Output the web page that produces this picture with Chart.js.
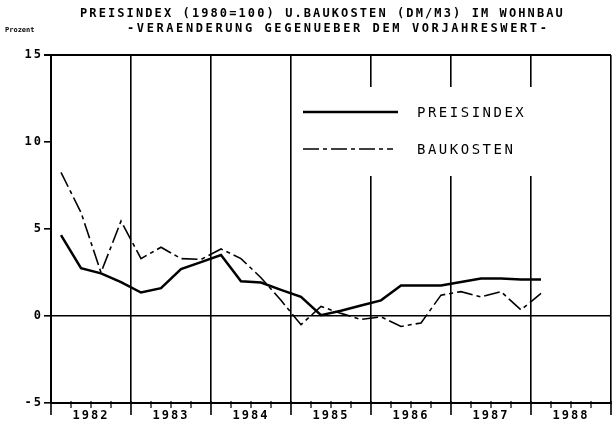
<!DOCTYPE html>
<html>
<head>
<meta charset="utf-8">
<script src="https://cdn.jsdelivr.net/npm/chart.js@4/dist/chart.umd.min.js"></script>
<style>
  html, body { margin: 0; padding: 0; background: #fff; }
  #wrap { width: 612px; height: 423px; }
</style>
</head>
<body>
<div id="wrap"><canvas id="preisChart" width="612" height="423"></canvas></div>
<script>
// quarterly values, 1982 Q1 .. 1988 Q1 (change vs. previous year, percent)
const firstYear = 1982;
const years = ['1982', '1983', '1984', '1985', '1986', '1987', '1988'];
const quarters = [
  '1982/1', '1982/2', '1982/3', '1982/4',
  '1983/1', '1983/2', '1983/3', '1983/4',
  '1984/1', '1984/2', '1984/3', '1984/4',
  '1985/1', '1985/2', '1985/3', '1985/4',
  '1986/1', '1986/2', '1986/3', '1986/4',
  '1987/1', '1987/2', '1987/3', '1987/4',
  '1988/1'
];
const preisindex = [
  4.65, 2.75, 2.45, 1.95,
  1.35, 1.6, 2.7, 3.1,
  3.5, 2.0, 1.92, 1.5,
  1.1, 0.05, 0.3, 0.6,
  0.9, 1.75, 1.75, 1.75,
  1.95, 2.15, 2.15, 2.1,
  2.1
];
const baukosten = [
  8.25, 5.95, 2.5, 5.45,
  3.3, 3.95, 3.3, 3.25,
  3.85, 3.3, 2.2, 0.9,
  -0.5, 0.55, 0.15, -0.2,
  -0.05, -0.6, -0.4, 1.2,
  1.4, 1.1, 1.4, 0.35,
  1.3
];
const yTicks = [15, 10, 5, 0, -5];
const seriesNames = ['PREISINDEX', 'BAUKOSTEN'];

const mono = '"DejaVu Sans Mono", "Liberation Mono", monospace';
const qPos = (i) => firstYear + (i + 0.5) / 4;

const paper = {
  id: 'paper',
  beforeDraw(chart) {
    chart.ctx.letterSpacing = '2px';
  },
  afterDraw(chart) {
    const ctx = chart.ctx;
    const xs = chart.scales.x;
    const ys = chart.scales.y;
    const bottom = ys.getPixelForValue(-5);
    ctx.save();
    ctx.strokeStyle = '#000';
    ctx.fillStyle = '#000';
    // quarter ticks under the axis, year lines run a bit further down
    for (let v = firstYear * 4; v <= (firstYear + years.length) * 4; v++) {
      const x = xs.getPixelForValue(v / 4);
      const len = v % 4 === 0 ? 12 : 5;
      ctx.lineWidth = v % 4 === 0 ? 1.6 : 1.2;
      ctx.beginPath();
      ctx.moveTo(x, bottom - 2);
      ctx.lineTo(x, bottom + len);
      ctx.stroke();
    }
    // legend box inside the plot
    ctx.fillStyle = '#fff';
    ctx.fillRect(297, 87, 306, 89);
    ctx.fillStyle = '#000';
    ctx.lineWidth = 2.5;
    ctx.beginPath();
    ctx.moveTo(303, 112);
    ctx.lineTo(398, 112);
    ctx.stroke();
    ctx.lineWidth = 1.6;
    ctx.setLineDash([16, 4, 4, 4]);
    ctx.beginPath();
    ctx.moveTo(303, 149);
    ctx.lineTo(393, 149);
    ctx.stroke();
    ctx.setLineDash([]);
    ctx.font = '14px ' + mono;
    ctx.letterSpacing = '2.5px';
    ctx.textBaseline = 'middle';
    ctx.textAlign = 'left';
    ctx.fillText(seriesNames[0], 417, 113);
    ctx.fillText(seriesNames[1], 417, 150);
    // titles
    ctx.font = 'bold 12px ' + mono;
    ctx.letterSpacing = '2.1px';
    ctx.fillText('PREISINDEX (1980=100) U.BAUKOSTEN (DM/M3) IM WOHNBAU', 80, 14);
    ctx.letterSpacing = '2.6px';
    ctx.fillText('-VERAENDERUNG GEGENUEBER DEM VORJAHRESWERT-', 127, 29);
    ctx.font = 'bold 7px ' + mono;
    ctx.letterSpacing = '0px';
    ctx.fillText('Prozent', 5, 30);
    ctx.restore();
  }
};

new Chart(document.getElementById('preisChart').getContext('2d'), {
  type: 'line',
  data: {
    datasets: [
      {
        label: seriesNames[0],
        data: preisindex.map((v, i) => ({ x: qPos(i), y: v })),
        borderColor: '#000',
        borderWidth: 2.5,
        pointRadius: 0,
        tension: 0
      },
      {
        label: seriesNames[1],
        data: baukosten.map((v, i) => ({ x: qPos(i), y: v })),
        borderColor: '#000',
        borderWidth: 1.6,
        borderDash: [16, 4, 4, 4],
        pointRadius: 0,
        tension: 0
      }
    ]
  },
  options: {
    responsive: false,
    animation: false,
    layout: { padding: { top: 55, right: 1, left: 0, bottom: 0 } },
    plugins: {
      legend: { display: false },
      title: { display: false },
      tooltip: { enabled: false }
    },
    scales: {
      x: {
        type: 'linear',
        min: firstYear,
        max: firstYear + years.length,
        afterFit: (s) => { s.height = 20; s.paddingLeft = 0; s.paddingRight = 0; },
        border: { display: true, color: '#000', width: 2 },
        grid: {
          drawTicks: false,
          lineWidth: 1.6,
          color: (c) => Number.isInteger(c.tick.value) ? '#000' : 'rgba(0,0,0,0)'
        },
        ticks: {
          stepSize: 0.25,
          autoSkip: false,
          maxRotation: 0,
          padding: 6,
          color: '#000',
          font: { family: mono, size: 12, weight: 'bold' },
          callback: (v) => {
            const i = Math.round((v - 0.5 - firstYear));
            return Math.abs(v - firstYear - i - 0.5) < 1e-6 ? years[i] : '';
          }
        }
      },
      y: {
        min: -5,
        max: 15,
        afterFit: (s) => { s.width = 51; },
        afterBuildTicks: (s) => { s.ticks = yTicks.map((v) => ({ value: v })); },
        border: { display: true, color: '#000', width: 2 },
        grid: {
          lineWidth: (c) => c.tick.value === 15 ? 2 : 1.6,
          tickLength: 7,
          tickColor: '#000',
          color: (c) => [15, 0, -5].includes(c.tick.value) ? '#000' : 'rgba(0,0,0,0)'
        },
        ticks: {
          padding: 1,
          color: '#000',
          font: { family: mono, size: 12, weight: 'bold' }
        }
      }
    }
  },
  plugins: [paper]
});
</script>
</body>
</html>
